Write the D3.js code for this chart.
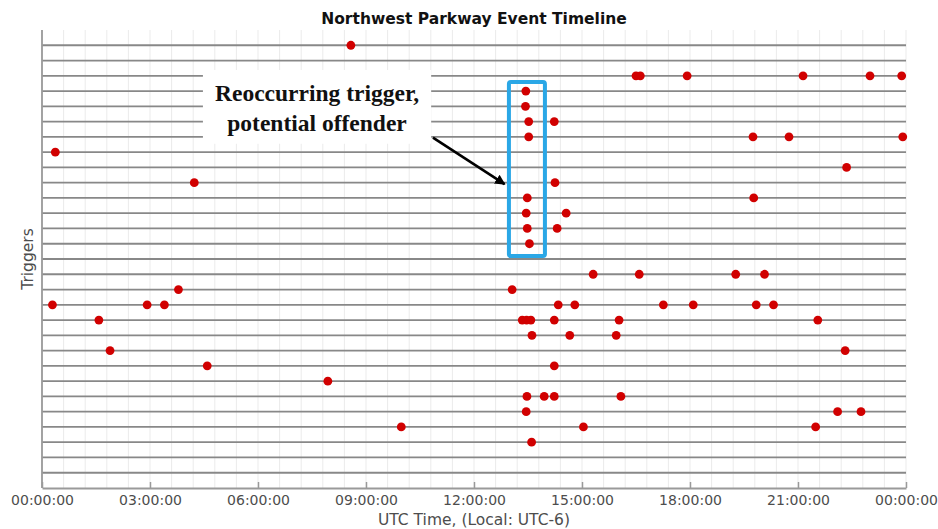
<!DOCTYPE html>
<html>
<head>
<meta charset="utf-8">
<script src="https://cdn.jsdelivr.net/npm/d3@7"></script>
<style>
  html, body { margin: 0; padding: 0; background: #fff; }
  svg { display: block; }
</style>
</head>
<body>
<div id="chart"></div>
<script>
// ---- Data (hours of day, UTC) per trigger row, top to bottom ----
const chartTitle = "Northwest Parkway Event Timeline";
const xAxisLabel = "UTC Time, (Local: UTC-6)";
const yAxisLabel = "Triggers";
const xTickHours = [0, 3, 6, 9, 12, 15, 18, 21, 24];
const xTickLabels = ["00:00:00", "03:00:00", "06:00:00", "09:00:00", "12:00:00",
                     "15:00:00", "18:00:00", "21:00:00", "00:00:00"];
const triggerCount = 29;
const triggerEvents = [
  [8.58],
  [],
  [16.5, 16.62, 17.92, 21.14, 23.0, 23.88],
  [13.44],
  [13.43],
  [13.52, 14.23],
  [13.52, 19.75, 20.75, 23.91],
  [0.37],
  [22.35],
  [4.23, 14.25],
  [13.48, 19.77],
  [13.45, 14.56],
  [13.48, 14.31],
  [13.54],
  [],
  [15.31, 16.59, 19.27, 20.07],
  [3.79, 13.06],
  [0.29, 2.92, 3.40, 14.34, 14.80, 17.26, 18.09, 19.84, 20.32],
  [1.58, 13.34, 13.46, 13.58, 14.23, 16.03, 21.55],
  [13.61, 14.66, 15.95],
  [1.89, 22.31],
  [4.59, 14.23],
  [7.94],
  [13.47, 13.95, 14.23, 16.08],
  [13.45, 22.10, 22.75],
  [9.98, 15.04, 21.49],
  [13.60],
  [],
  []
];
const annotationLines = ["Reoccurring trigger,", "potential offender"];

// ---- Layout ----
const W = 938, H = 529;
const margin = { left: 42, right: 32, top: 30, bottom: 41 };

const svg = d3.select("#chart").append("svg")
  .attr("width", W).attr("height", H);

const x = d3.scaleLinear().domain([0, 24]).range([margin.left, W - margin.right]);
const y = d3.scaleLinear().domain([-1, triggerCount]).range([margin.top, H - margin.bottom]);

// minor vertical gridlines (every 36 minutes)
const minor = d3.range(0, 24.0001, 0.6);
svg.append("g").selectAll("line").data(minor).join("line")
  .attr("x1", d => x(d)).attr("x2", d => x(d))
  .attr("y1", y(-1)).attr("y2", y(triggerCount))
  .attr("stroke", "#ebebeb").attr("stroke-width", 1);

// horizontal trigger lines
svg.append("g").selectAll("line").data(d3.range(triggerCount)).join("line")
  .attr("x1", x(0)).attr("x2", x(24))
  .attr("y1", d => y(d)).attr("y2", d => y(d))
  .attr("stroke", "#888").attr("stroke-width", 1.8);

// left spine
svg.append("line")
  .attr("x1", x(0)).attr("x2", x(0))
  .attr("y1", y(-1)).attr("y2", y(triggerCount))
  .attr("stroke", "#9a9a9a").attr("stroke-width", 1.8);

// bottom axis
const xAxis = d3.axisBottom(x)
  .tickValues(xTickHours)
  .tickFormat((d, i) => xTickLabels[i])
  .tickSizeInner(-6).tickSizeOuter(0).tickPadding(7);
const gx = svg.append("g")
  .attr("transform", `translate(0,${y(triggerCount)})`)
  .call(xAxis);
gx.select(".domain").attr("stroke", "#9a9a9a").attr("stroke-width", 1.8);
gx.selectAll(".tick line").attr("stroke", "#9a9a9a").attr("stroke-width", 1.5);
gx.selectAll(".tick text")
  .attr("fill", "#4d4d4d").attr("font-family", "DejaVu Sans")
  .attr("font-size", 14);

// points
const pts = [];
triggerEvents.forEach((hours, row) => hours.forEach(h => pts.push({ row, h })));
svg.append("g").selectAll("circle").data(pts).join("circle")
  .attr("cx", d => x(d.h)).attr("cy", d => y(d.row))
  .attr("r", 4.4).attr("fill", "#d10000");

// title and axis labels
svg.append("text")
  .attr("x", x(12)).attr("y", 23.5)
  .attr("text-anchor", "middle")
  .attr("font-family", "DejaVu Sans").attr("font-weight", "bold")
  .attr("font-size", 15.5).attr("fill", "#111")
  .text(chartTitle);

svg.append("text")
  .attr("x", x(12)).attr("y", 525)
  .attr("text-anchor", "middle")
  .attr("font-family", "DejaVu Sans").attr("font-size", 15.5).attr("fill", "#4d4d4d")
  .text(xAxisLabel);

svg.append("text")
  .attr("transform", `translate(33,${y(14)}) rotate(-90)`)
  .attr("text-anchor", "middle")
  .attr("font-family", "DejaVu Sans").attr("font-size", 15.5).attr("fill", "#4d4d4d")
  .text(yAxisLabel);

// ---- Annotation ----
const ann = svg.append("g");
ann.append("rect")
  .attr("x", x(4.47)).attr("y", y(1.62))
  .attr("width", x(10.81) - x(4.47)).attr("height", y(6.45) - y(1.62))
  .attr("fill", "#fff");
ann.selectAll("text").data(annotationLines).join("text")
  .attr("x", (x(4.47) + x(10.81)) / 2)
  .attr("y", (d, i) => 101 + i * 30)
  .attr("text-anchor", "middle")
  .attr("font-family", "Liberation Serif").attr("font-weight", "bold")
  .attr("font-size", 23.5).attr("fill", "#111")
  .text(d => d);

svg.append("defs").append("marker")
  .attr("id", "arrowhead").attr("viewBox", "0 0 10 10")
  .attr("refX", 9).attr("refY", 5)
  .attr("markerWidth", 4).attr("markerHeight", 4)
  .attr("orient", "auto")
  .append("path").attr("d", "M0,0 L10,5 L0,10 z").attr("fill", "#000");

ann.append("line")
  .attr("x1", x(10.86)).attr("y1", y(6.05))
  .attr("x2", x(12.85)).attr("y2", y(9.1))
  .attr("stroke", "#000").attr("stroke-width", 2.6)
  .attr("marker-end", "url(#arrowhead)");

// highlight box
ann.append("rect")
  .attr("x", x(12.97)).attr("y", y(2.41))
  .attr("width", x(13.97) - x(12.97)).attr("height", y(13.81) - y(2.41))
  .attr("rx", 2)
  .attr("fill", "none").attr("stroke", "#2aa7e6").attr("stroke-width", 4);
</script>
</body>
</html>
